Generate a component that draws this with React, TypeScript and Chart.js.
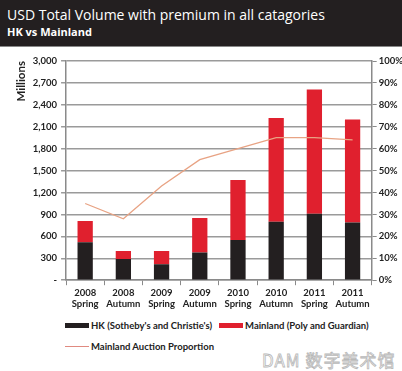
import React, { useEffect, useRef } from "react";
import { Chart, registerables } from "chart.js";

Chart.register(...registerables);

const categories = [
  ["2008", "Spring"], ["2008", "Autumn"], ["2009", "Spring"], ["2009", "Autumn"],
  ["2010", "Spring"], ["2010", "Autumn"], ["2011", "Spring"], ["2011", "Autumn"],
];
const hkValues = [520, 290, 220, 380, 550, 800, 910, 790];
const mainlandValues = [290, 110, 180, 470, 820, 1420, 1700, 1410];
const proportionValues = [0.35, 0.28, 0.43, 0.55, 0.6, 0.65, 0.65, 0.64];
const seriesNames = ["HK (Sotheby's and Christie's)", "Mainland (Poly and Guardian)", "Mainland Auction Proportion"];

const BLACK = "#231f20";
const RED = "#e0202e";
const LINE = "#e8a384";
const FONT = "Lato, 'Open Sans', sans-serif";

export default function App() {
  const ref = useRef<HTMLCanvasElement>(null);
  useEffect(() => {
    document.body.style.margin = "0";
    const ctx = ref.current!;
    const chart = new Chart(ctx, {
      type: "bar",
      data: {
        labels: categories,
        datasets: [
          {
            type: "line",
            label: seriesNames[2],
            data: proportionValues,
            yAxisID: "y1",
            borderColor: LINE,
            borderWidth: 1.3,
            pointRadius: 0,
            tension: 0,
            order: 0,
          } as any,
          {
            label: seriesNames[0],
            data: hkValues,
            backgroundColor: BLACK,
            stack: "s",
            yAxisID: "y",
            barPercentage: 0.8,
            categoryPercentage: 0.5,
            order: 1,
          },
          {
            label: seriesNames[1],
            data: mainlandValues,
            backgroundColor: RED,
            stack: "s",
            yAxisID: "y",
            barPercentage: 0.8,
            categoryPercentage: 0.5,
            order: 1,
          },
        ],
      },
      options: {
        animation: false,
        responsive: false,
        maintainAspectRatio: false,
        layout: { padding: { left: 14, right: -3, top: 14, bottom: 0 } },
        plugins: { legend: { display: false }, tooltip: { enabled: false } },
        scales: {
          x: {
            stacked: true,
            grid: { offset: true, drawOnChartArea: false, drawTicks: true, tickLength: 5, color: "#8a8a8a", lineWidth: 1 },
            border: { color: "#8a8a8a", width: 1.5 },
            ticks: { color: "#222", font: { family: FONT, size: 9.5, weight: "bold" }, padding: 2, maxRotation: 0, autoSkip: false },
          },
          y: {
            stacked: true,
            min: 0,
            max: 3000,
            position: "left",
            title: { display: true, text: "Millions", align: "end", color: "#222", font: { family: FONT, size: 11.5, weight: "bold" }, padding: { top: 0, bottom: 1 } },
            ticks: {
              stepSize: 300,
              color: "#222",
              font: { family: FONT, size: 9.5, weight: "bold" },
              padding: 4,
              callback: (v: any) => (Number(v) === 0 ? "-" : Number(v).toLocaleString("en-US")),
            },
            grid: { color: "#9a9a9a", lineWidth: 1.5, tickLength: 5, drawTicks: true },
            border: { color: "#8a8a8a", width: 1.5 },
          },
          y1: {
            min: 0,
            max: 1,
            position: "right",
            ticks: {
              stepSize: 0.1,
              color: "#222",
              font: { family: FONT, size: 9.5, weight: "bold" },
              padding: 2,
              callback: (v: any) => Math.round(Number(v) * 100) + "%",
            },
            grid: { drawOnChartArea: false, color: "#8a8a8a", tickLength: 5, drawTicks: true },
            border: { color: "#8a8a8a", width: 1.5 },
          },
        },
      },
    });
    return () => chart.destroy();
  }, []);

  const legendText: React.CSSProperties = { fontFamily: FONT, fontWeight: 700, fontSize: 9.5, color: "#222", whiteSpace: "nowrap" };

  return (
    <div style={{ position: "relative", width: 402, height: 371, background: "#fff", overflow: "hidden" }}>
      <div style={{ position: "absolute", left: 0, top: 0, width: 402, height: 46, background: BLACK, borderBottom: "1px solid #888" }}>
        <div style={{ position: "absolute", left: 7, top: 5, color: "#fff", fontFamily: "'Open Sans', sans-serif", fontSize: 14, whiteSpace: "nowrap" }}>
          USD Total Volume with premium in all catagories
        </div>
        <div style={{ position: "absolute", left: 7, top: 24, color: "#fff", fontFamily: "'Open Sans', sans-serif", fontWeight: 700, fontSize: 11, whiteSpace: "nowrap" }}>
          HK vs Mainland
        </div>
      </div>
      <canvas ref={ref} width={402} height={265} style={{ position: "absolute", left: 0, top: 47, width: 402, height: 265 }} />
      <div style={{ position: "absolute", left: 65, top: 320, display: "flex", alignItems: "center" }}>
        <span style={{ display: "inline-block", width: 24, height: 5, background: BLACK, marginRight: 2 }} />
        <span style={legendText}>{seriesNames[0]}</span>
        <span style={{ display: "inline-block", width: 24, height: 5, background: RED, marginLeft: 7, marginRight: 2 }} />
        <span style={legendText}>{seriesNames[1]}</span>
      </div>
      <div style={{ position: "absolute", left: 65, top: 341, display: "flex", alignItems: "center" }}>
        <span style={{ display: "inline-block", width: 24, height: 1.3, background: "#e08a80", marginRight: 2 }} />
        <span style={legendText}>{seriesNames[2]}</span>
      </div>
      <div style={{ position: "absolute", left: 262, top: 347, color: "#fff", WebkitTextStroke: "0.8px #b8b8b8", fontFamily: "'Noto Sans CJK SC', sans-serif", fontSize: 17, whiteSpace: "nowrap", letterSpacing: 1 }}>
        DAM 数字美术馆
      </div>
    </div>
  );
}
